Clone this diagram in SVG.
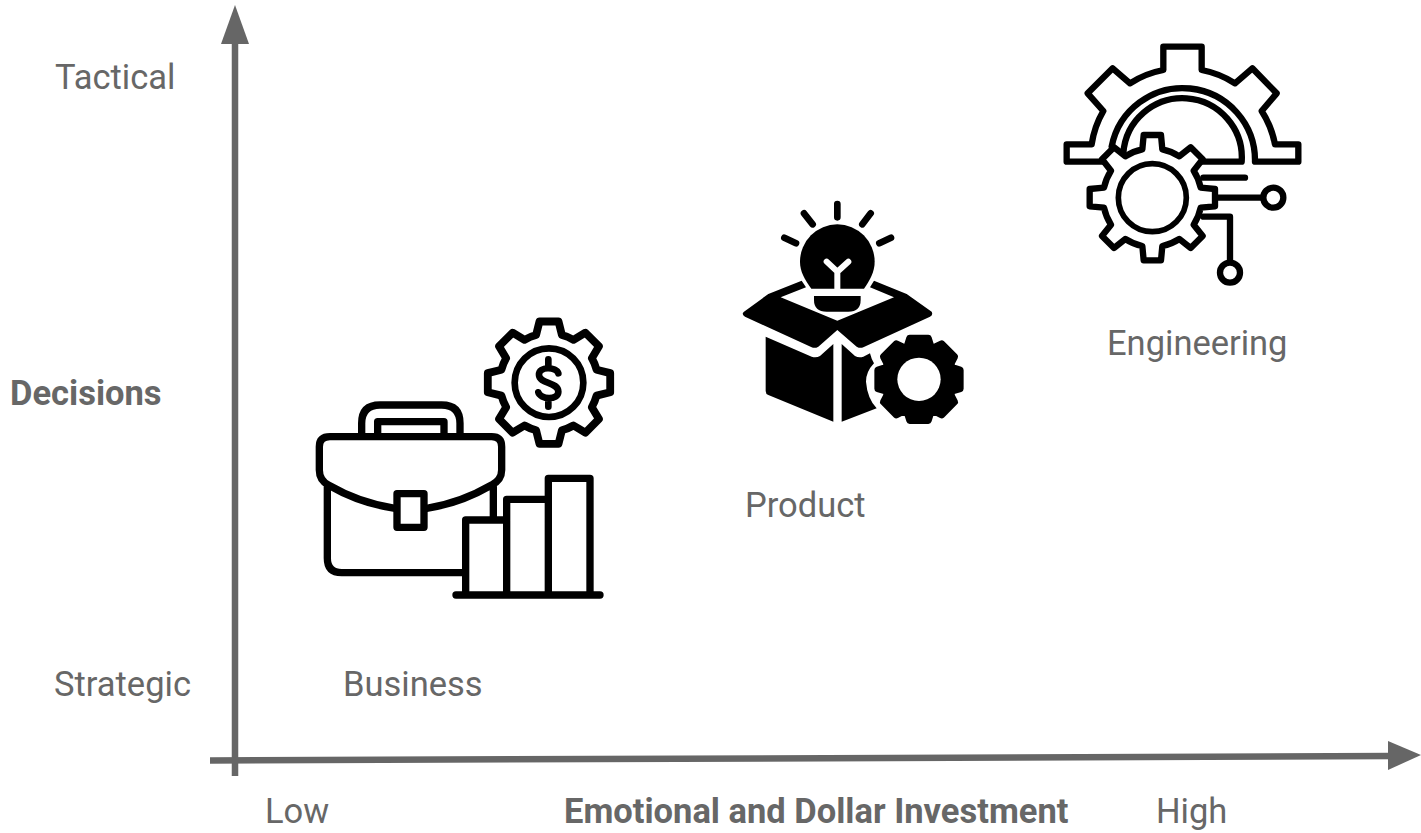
<svg xmlns="http://www.w3.org/2000/svg" width="1421" height="833" viewBox="0 0 1421 833">
<style>
text{font-family:Roboto,"Liberation Sans",sans-serif;font-size:34.500px;fill:#666;opacity:.99}
.b{font-weight:700}
.big{font-size:103.500px}
.ax{fill:none;stroke:#666;stroke-width:6.500}
.ah{fill:#666}
.ln{fill:none;stroke:#000;stroke-linecap:round;stroke-linejoin:round}
.g{fill:#fff;stroke:#000;stroke-linejoin:round}
</style>
<rect width="1421" height="833" fill="#fff"/>
<g id="connectors">
<path class="ax" d="M235 40V776"/>
<polygon class="ah" points="235,5 249,44 221,44"/>
<path class="ax" d="M210 760.500L1392 756"/>
<polygon class="ah" points="1421,755 1388,741 1388,770"/>
</g>
<g id="engineering" transform="translate(1040 30) scale(.33333)">
<path class="ln" stroke-width="19" d="M190 395H80V343H155A280 280 0 0 1 190 243L143 190L218 115L270 160A280 280 0 0 1 370 120V50H485V120A280 280 0 0 1 585 160L637 115L710 190L665 243A280 280 0 0 1 705 343H775V395H645A217 217 0 0 0 215 350M250 370A177 177 0 0 1 605 395H480M490 443H615M530 503H665M490 560H570V695"/>
<circle class="ln" stroke-width="19" cx="700" cy="503" r="30"/>
<circle class="ln" stroke-width="19" cx="570" cy="728" r="30"/>
<path class="g" stroke-width="19" transform="translate(337 503)" d="M-30-145L-26-188H26L30-145A148 148 0 0 1 81-124L115-151L151-115L124-81A148 148 0 0 1 145-30L188-26V26L145 30A148 148 0 0 1 124 81L151 115L115 151L81 124A148 148 0 0 1 30 145L26 188H-26L-30 145A148 148 0 0 1 -81 124L-115 151L-151 115L-124 81A148 148 0 0 1 -145 30L-188 26V-26L-145-30A148 148 0 0 1 -124-81L-151-115L-115-151L-81-124A148 148 0 0 1 -30-145Z"/>
<circle class="ln" stroke-width="17" cx="337" cy="503" r="102"/>
<text class="big" x="201" y="975">Engineering</text>
</g>
<g id="product" transform="translate(730 190) scale(.33333)">
<path class="ln" stroke-width="20" d="M322 42V82M222 70L248 103M422 70L397 103M163 143L198 160M483 143L448 160"/>
<path d="M244 296C225 270 210 245 210 215A112 112 0 0 1 434 215C434 245 420 270 402 296Z"/>
<path class="ln" style="stroke:#fff" stroke-width="18" d="M322 296V245M290 215L322 245L355 215"/>
<path d="M252 318H392V330Q392 365 355 365H290Q252 365 252 330Z"/>
<path d="M215 272L228 292L152 322L322 392L492 322L420 292L432 272L530 312L605 365Q610 375 600 380L400 472Q390 476 380 470L322 420L265 470Q255 476 245 472L45 380Q33 372 42 365L115 312Z"/>
<path d="M107 440L245 500Q258 505 270 498L310 462V695L115 615Q107 612 107 603Z"/>
<path d="M335 462L375 498Q387 505 400 500L420 490Q425 510 432 520Q408 545 408 575Q412 625 440 655L335 695Z"/>
<path stroke="#000" stroke-width="22" stroke-linejoin="round" transform="translate(567 568) scale(.93)" d="M-38-108L-30-133H30L38-108L49.500-103L73-115L115-73L103-49.500L108-38L133-30V30L108 38L103 49.500L115 73L73 115L49.500 103L38 108L30 133H-30L-38 108L-49.500 103L-73 115L-115 73L-103 49.500L-108 38L-133 30V-30L-108-38L-103-49.500L-115-73L-73-115L-49.500-103Z"/>
<circle cx="567" cy="568" r="65" fill="#fff"/>
<text class="big" x="45" y="981">Product</text>
</g>
<g id="business" transform="translate(300 310) scale(.33333)">
<path class="ln" stroke-width="23" transform="translate(747 218) scale(1.02)" d="M-38-140L-28-180H28L38-140A145 145 0 0 1 72-126L107-147L147-107L126-72A145 145 0 0 1 140-38L180-28V28L140 38A145 145 0 0 1 126 72L147 107L107 147L72 126A145 145 0 0 1 38 140L28 180H-28L-38 140A145 145 0 0 1 -72 126L-107 147L-147 107L-126 72A145 145 0 0 1 -140 38L-180 28V-28L-140-38A145 145 0 0 1 -126-72L-147-107L-107-147L-72-126A145 145 0 0 1 -38-140Z"/>
<circle class="ln" stroke-width="20" cx="747" cy="218" r="103"/>
<path class="ln" stroke-width="20" d="M775 190C770 170 715 168 717 195C718 222 775 215 775 245C775 272 720 268 715 247M745 148V170M745 270V290"/>
<path class="ln" stroke-width="22" d="M285 595Q180 580 85 525Q58 510 58 480V410Q58 380 90 380H575Q605 380 605 410V480Q605 510 575 525Q480 580 380 595M82 530V745Q82 788 125 788H495M580 530V625M185 375V340Q185 285 240 285H425Q480 285 480 340V375M233 375V335H432V375"/>
<rect class="ln" stroke-width="22" x="291" y="551" width="81" height="101"/>
<path class="ln" stroke-width="22" d="M497 855V630H620M620 855V568H745M745 855V505H870V855M468 855H900"/>
<text class="big" x="129" y="1158">Business</text>
</g>
<g id="axis-labels">
<text x="55" y="89">Tactical</text>
<text x="54" y="696">Strategic</text>
<text class="b" x="10" y="405">Decisions</text>
<text x="265" y="823">Low</text>
<text class="b" x="564" y="823">Emotional and Dollar Investment</text>
<text x="1156" y="823">High</text>
</g>
</svg>
